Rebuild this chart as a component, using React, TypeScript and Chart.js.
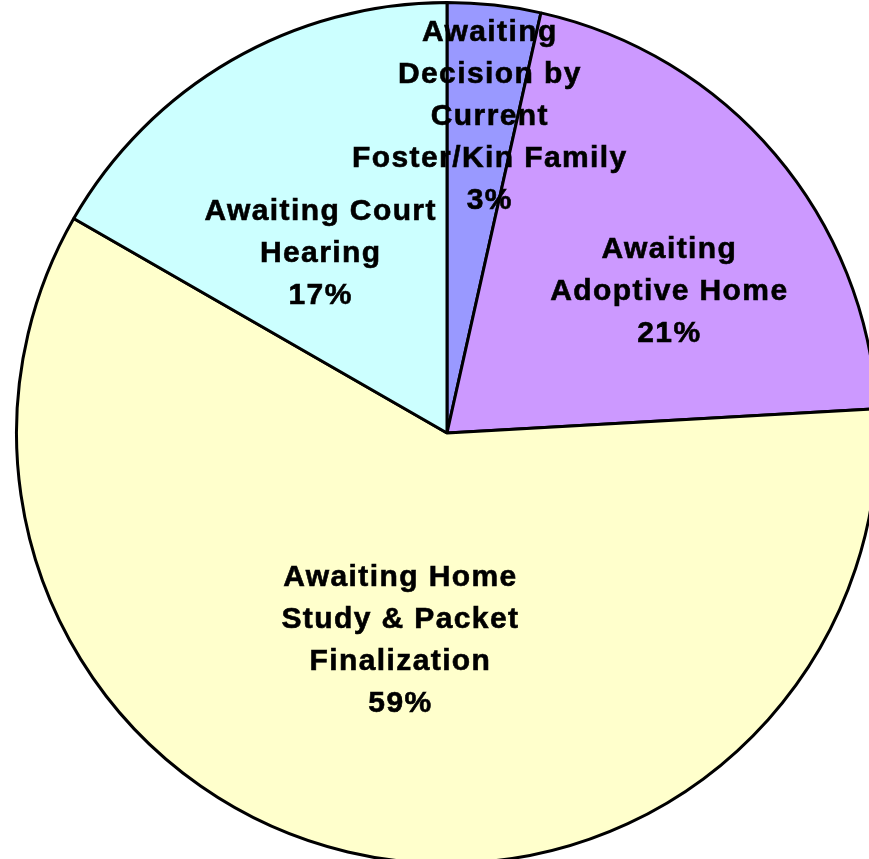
import React, { useEffect, useRef } from "react";
import { Chart, registerables } from "chart.js";

Chart.register(...registerables);

const categories: string[][] = [
  ["Awaiting", "Decision by", "Current", "Foster/Kin Family"],
  ["Awaiting", "Adoptive Home"],
  ["Awaiting Home", "Study & Packet", "Finalization"],
  ["Awaiting Court", "Hearing"],
];
const values: number[] = [3.5, 20.6, 59.2, 16.7];
const percentLabels: string[] = ["3%", "21%", "59%", "17%"];
const colors: string[] = ["#9999FF", "#CC99FF", "#FFFFCC", "#CCFFFF"];

// label placement style: fraction of radius and angle offset (degrees)
const labelRadiusFrac: number[] = [0.74, 0.61, 0.495, 0.51];
const labelAngleOffset: number[] = [1.3, 7.9, -0.5, -5.3];

const labelPlugin = {
  id: "sliceLabels",
  afterDatasetsDraw(chart: any) {
    const ctx = chart.ctx as CanvasRenderingContext2D;
    const meta = chart.getDatasetMeta(0);
    ctx.save();
    ctx.fillStyle = "#000000";
    ctx.strokeStyle = "#000000";
    ctx.lineWidth = 0.6;
    ctx.font = "bold 30px 'Liberation Sans', Arial, sans-serif";
    (ctx as any).letterSpacing = "1.4px";
    ctx.textAlign = "center";
    ctx.textBaseline = "middle";
    const lineH = 42;
    meta.data.forEach((arc: any, i: number) => {
      const { x, y, startAngle, endAngle, outerRadius } = arc.getProps(
        ["x", "y", "startAngle", "endAngle", "outerRadius"],
        true
      );
      const mid = (startAngle + endAngle) / 2 + (labelAngleOffset[i] * Math.PI) / 180;
      const r = outerRadius * labelRadiusFrac[i];
      const cx = x + Math.cos(mid) * r + 0.7;
      const cy = y + Math.sin(mid) * r;
      const lines = [...categories[i], percentLabels[i]];
      const top = cy - ((lines.length - 1) * lineH) / 2;
      lines.forEach((ln, k) => {
        ctx.fillText(ln, cx, top + k * lineH);
        ctx.strokeText(ln, cx, top + k * lineH);
      });
    });
    ctx.restore();
  },
};

export default function App() {
  const ref = useRef<HTMLCanvasElement | null>(null);
  useEffect(() => {
    if (!ref.current) return;
    const chart = new Chart(ref.current, {
      type: "pie",
      data: {
        labels: categories.map((c) => c.join(" ")),
        datasets: [
          {
            data: values,
            backgroundColor: colors,
            borderColor: "#000000",
            borderWidth: 3,
          },
        ],
      },
      options: {
        responsive: false,
        animation: false,
        layout: { padding: 1 },
        plugins: {
          legend: { display: false },
          tooltip: { enabled: false },
        },
      },
      plugins: [labelPlugin],
    });
    return () => chart.destroy();
  }, []);
  return (
    <div
      style={{
        position: "fixed",
        left: 0,
        top: 0,
        width: 869,
        height: 859,
        overflow: "hidden",
        background: "#ffffff",
      }}
    >
      <canvas ref={ref} width={894} height={866} style={{ display: "block" }} />
    </div>
  );
}
